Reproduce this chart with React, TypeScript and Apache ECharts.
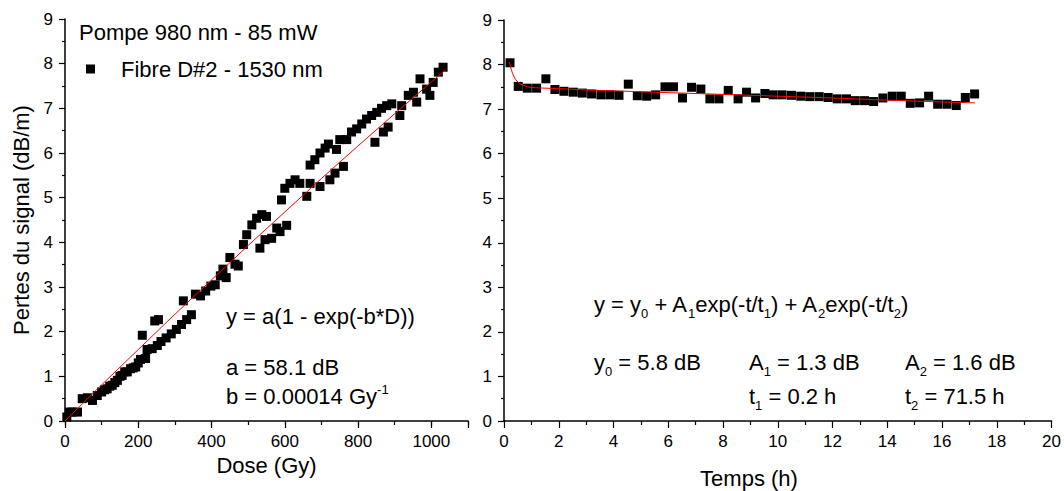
import React, { useEffect, useRef } from 'react';
import * as echarts from 'echarts';

const FONT = '"Liberation Sans", Arial, Helvetica, sans-serif';

// ---- Left panel: losses vs dose ----
const doseGy = [
  5, 12, 20, 34, 47, 61, 75, 88, 100, 108, 115, 122, 129, 136, 143, 150, 156, 163, 170, 179,
  186, 193, 200, 206, 211, 220, 224, 238, 245, 252, 255, 262, 276, 290, 304, 318, 323, 332, 345, 356,
  370, 384, 398, 410, 424, 431, 440, 450, 464, 473, 487, 496, 510, 523, 532, 537, 546, 550, 564, 578,
  587, 591, 600, 605, 614, 628, 641, 660, 669, 669, 682, 696, 696, 710, 719, 723, 737, 741, 750, 760,
  769, 782, 796, 810, 823, 837, 846, 851, 864, 869, 878, 882, 892, 914, 919, 937, 951, 960, 969, 987,
  996, 1005, 1019, 1032
];
const lossDose = [
  0.09, 0.2, 0.2, 0.2, 0.5, 0.52, 0.46, 0.57, 0.65, 0.7, 0.72, 0.78, 0.8, 0.86, 0.91, 1.0, 1.02, 1.1, 1.1, 1.17,
  1.19, 1.21, 1.3, 1.38, 1.92, 1.4, 1.6, 1.62, 2.24, 1.69, 2.27, 1.78, 1.86, 1.95, 2.05, 2.16, 2.69, 2.27, 2.38, 2.84,
  2.8, 2.91, 3.02, 3.05, 3.25, 3.4, 3.21, 3.66, 3.51, 3.47, 3.95, 4.17, 4.39, 4.54, 3.87, 4.62, 4.06, 4.58, 4.09, 4.32,
  4.24, 4.95, 5.21, 4.38, 5.32, 5.4, 5.32, 5.03, 5.32, 5.73, 5.85, 6.0, 5.25, 6.11, 6.2, 5.4, 5.55, 6.08, 6.3, 5.7,
  6.3, 6.47, 6.54, 6.65, 6.76, 6.84, 6.24, 6.91, 7.0, 6.47, 7.06, 6.58, 7.1, 6.84, 7.06, 7.29, 7.36, 7.14, 7.66, 7.43,
  7.29, 7.58, 7.81, 7.92
];
const fitDose = [0, 100, 200, 300, 400, 500, 600, 700, 800, 900, 1000, 1040];
const fitDoseLoss = [0, 0.81, 1.6, 2.39, 3.16, 3.93, 4.68, 5.43, 6.16, 6.88, 7.59, 7.87];

// ---- Right panel: losses vs time ----
const timeH = [
  0.22, 0.52, 0.85, 1.19, 1.53, 1.86, 2.19, 2.53, 2.86, 3.2, 3.54, 3.87, 4.2, 4.54, 4.87, 5.21, 5.54, 5.88, 6.19, 6.52,
  6.85, 7.19, 7.52, 7.85, 8.19, 8.55, 8.86, 9.19, 9.53, 9.83, 10.16, 10.5, 10.84, 11.17, 11.51, 11.84, 12.17, 12.51, 12.83, 13.17,
  13.5, 13.84, 14.18, 14.51, 14.84, 15.18, 15.51, 15.84, 16.18, 16.52, 16.85, 17.19
];
const lossTime = [
  8.04, 7.51, 7.47, 7.47, 7.68, 7.44, 7.4, 7.38, 7.36, 7.34, 7.32, 7.32, 7.31, 7.56, 7.3, 7.29, 7.32, 7.5, 7.5, 7.25,
  7.49, 7.45, 7.23, 7.23, 7.42, 7.23, 7.38, 7.25, 7.35, 7.32, 7.32, 7.31, 7.29, 7.28, 7.28, 7.26, 7.23, 7.23, 7.19, 7.19,
  7.17, 7.25, 7.29, 7.29, 7.13, 7.14, 7.29, 7.11, 7.11, 7.08, 7.26, 7.34
];
const fitTime = [0.2, 0.24, 0.28, 0.32, 0.37, 0.43, 0.5, 0.58, 0.68, 0.8, 0.95, 1.15, 1.5, 2, 3, 4, 6, 8, 10, 12, 14, 16, 17.2];
const fitTimeLoss = [8.06, 7.95, 7.86, 7.79, 7.72, 7.66, 7.61, 7.57, 7.54, 7.51, 7.49, 7.48, 7.47, 7.46, 7.43, 7.41, 7.37, 7.33, 7.29, 7.25, 7.2, 7.16, 7.14];

const LEGEND_LABEL = 'Fibre D#2 - 1530 nm';
const BIG = 22;

const axisLine = { show: true, lineStyle: { color: '#000', width: 1.5 } };
const tickLabel = { color: '#000', fontSize: 17, fontFamily: FONT, margin: 12 };
const tickStyle = { color: '#000', width: 1.2 };

function txt(x: number, y: number, text: string, extra: any = {}) {
  return {
    type: 'text',
    x,
    y,
    silent: true,
    style: {
      text,
      fill: '#000',
      fontSize: BIG,
      fontFamily: FONT,
      textAlign: 'left',
      align: 'left',
      textVerticalAlign: 'middle',
      verticalAlign: 'middle',
      ...extra,
    },
  };
}

const subRich = {
  s: { fontSize: 13, lineHeight: 13, fontFamily: FONT, fill: '#000', verticalAlign: 'bottom' },
};
const supRich = {
  p: { fontSize: 13, lineHeight: 13, fontFamily: FONT, fill: '#000', verticalAlign: 'top' },
};

export default function App() {
  const ref = useRef<HTMLDivElement>(null);
  useEffect(() => {
    if (!ref.current) return;
    const chart = echarts.init(ref.current, undefined, { renderer: 'svg' });
    const option: any = {
      animation: false,
      backgroundColor: '#fff',
      textStyle: { fontFamily: FONT },
      grid: [
        { left: 65, top: 19, width: 403, height: 402 },
        { left: 504, top: 20, width: 548, height: 401 },
      ],
      legend: {
        data: [LEGEND_LABEL],
        left: 86,
        top: 58,
        padding: 0,
        icon: 'rect',
        itemWidth: 9,
        itemHeight: 9,
        selectedMode: false,
        textStyle: { fontSize: BIG, color: '#000', fontFamily: FONT, padding: [0, 0, 0, 21] },
      },
      xAxis: [
        {
          gridIndex: 0,
          type: 'value',
          min: 0,
          max: 1100,
          interval: 100,
          position: 'bottom',
          axisLine,
          axisTick: { show: true, inside: false, length: 4, lineStyle: tickStyle },
          axisLabel: { ...tickLabel, formatter: (v: number) => (v % 200 === 0 ? String(v) : '') },
          splitLine: { show: false },
          name: 'Dose (Gy)',
          nameLocation: 'middle',
          nameGap: 33,
          nameTextStyle: { fontSize: BIG, color: '#000', fontFamily: FONT },
        },
        {
          gridIndex: 0,
          type: 'value',
          min: 0,
          max: 1100,
          interval: 200,
          position: 'bottom',
          offset: 0,
          axisLine: { show: false },
          axisTick: { show: true, inside: false, length: 7, lineStyle: tickStyle },
          axisLabel: { show: false },
          splitLine: { show: false },
        },
        {
          gridIndex: 1,
          type: 'value',
          min: 0,
          max: 20,
          interval: 2,
          position: 'bottom',
          axisLine,
          axisTick: { show: true, inside: false, length: 7, lineStyle: tickStyle },
          minorTick: { show: true, splitNumber: 2, length: 4, lineStyle: tickStyle },
          axisLabel: tickLabel,
          splitLine: { show: false },
        },
      ],
      yAxis: [
        {
          gridIndex: 0,
          type: 'value',
          min: 0,
          max: 9,
          interval: 1,
          axisLine,
          axisTick: { show: true, inside: false, length: 6, lineStyle: tickStyle },
          minorTick: { show: true, splitNumber: 2, length: 3, lineStyle: tickStyle },
          axisLabel: tickLabel,
          splitLine: { show: false },
          name: 'Pertes du signal (dB/m)',
          nameLocation: 'middle',
          nameGap: 33,
          nameTextStyle: { fontSize: BIG, color: '#000', fontFamily: FONT },
        },
        {
          gridIndex: 1,
          type: 'value',
          min: 0,
          max: 9,
          interval: 1,
          axisLine,
          axisTick: { show: true, inside: false, length: 6, lineStyle: tickStyle },
          minorTick: { show: true, splitNumber: 2, length: 3, lineStyle: tickStyle },
          axisLabel: tickLabel,
          splitLine: { show: false },
        },
      ],
      series: [
        {
          name: LEGEND_LABEL,
          type: 'scatter',
          xAxisIndex: 0,
          yAxisIndex: 0,
          symbol: 'rect',
          symbolSize: 9,
          itemStyle: { color: '#000', opacity: 1 },
          data: doseGy.map((d, i) => [d, lossDose[i]]),
          silent: true,
        },
        {
          name: 'fit-dose',
          type: 'line',
          xAxisIndex: 0,
          yAxisIndex: 0,
          showSymbol: false,
          smooth: false,
          lineStyle: { color: '#ff0000', width: 1 },
          data: fitDose.map((d, i) => [d, fitDoseLoss[i]]),
          silent: true,
        },
        {
          name: 'time-data',
          type: 'scatter',
          xAxisIndex: 2,
          yAxisIndex: 1,
          symbol: 'rect',
          symbolSize: 9,
          itemStyle: { color: '#000', opacity: 1 },
          data: timeH.map((t, i) => [t, lossTime[i]]),
          silent: true,
        },
        {
          name: 'fit-time',
          type: 'line',
          xAxisIndex: 2,
          yAxisIndex: 1,
          showSymbol: false,
          smooth: false,
          lineStyle: { color: '#ff0000', width: 1 },
          data: fitTime.map((t, i) => [t, fitTimeLoss[i]]),
          silent: true,
        },
      ],
      graphic: [
        txt(79, 32, 'Pompe 980 nm - 85 mW'),
        txt(226, 316, 'y = a(1 - exp(-b*D))'),
        txt(226, 367, 'a = 58.1 dB'),
        txt(226, 396, 'b = 0.00014 Gy{p|-1}', { lineHeight: 27, rich: supRich }),
        txt(594, 304, 'y = y{s|0} + A{s|1}exp(-t/t{s|1}) + A{s|2}exp(-t/t{s|2})', { lineHeight: 31, rich: subRich }),
        txt(594, 362, 'y{s|0} = 5.8 dB', { lineHeight: 31, rich: subRich }),
        txt(749, 362, 'A{s|1} = 1.3 dB', { lineHeight: 31, rich: subRich }),
        txt(905, 362, 'A{s|2} = 1.6 dB', { lineHeight: 31, rich: subRich }),
        txt(749, 396, 't{s|1} = 0.2 h', { lineHeight: 31, rich: subRich }),
        txt(905, 396, 't{s|2} = 71.5 h', { lineHeight: 31, rich: subRich }),
        txt(749, 478, 'Temps (h)', { textAlign: 'center', align: 'center' }),
      ],
    };
    chart.setOption(option);
    return () => chart.dispose();
  }, []);
  return (
    <div
      ref={ref}
      style={{ position: 'absolute', left: 0, top: 0, width: 1064, height: 491, background: '#fff' }}
    />
  );
}
